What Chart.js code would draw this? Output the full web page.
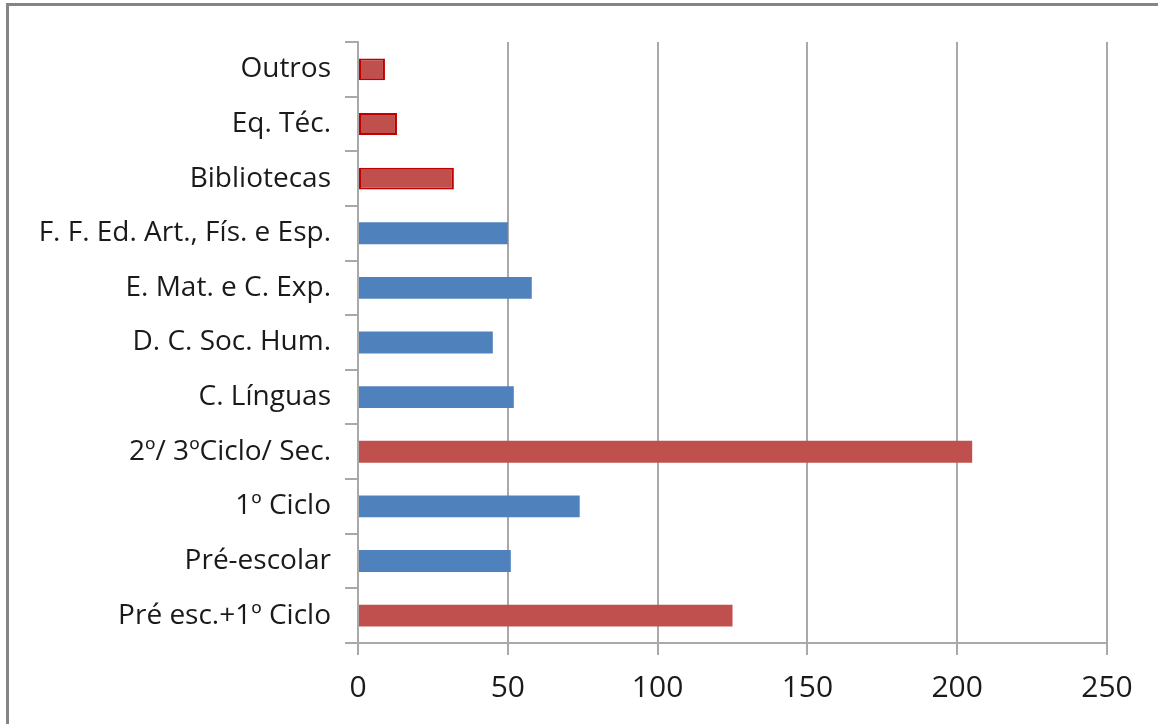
<!DOCTYPE html>
<html>
<head>
<meta charset="utf-8">
<script src="https://cdn.jsdelivr.net/npm/chart.js@4"></script>
<style>
  html, body { margin: 0; padding: 0; background: #fff; overflow: hidden; }
  #frame {
    position: absolute; left: 6px; top: 3px; width: 1200px; height: 800px;
    border-left: 3px solid #858585; border-top: 3px solid #858585;
  }
  #wrap { position: absolute; left: 0; top: 0; width: 1158px; height: 724px; }
</style>
</head>
<body>
<div id="frame"></div>
<div id="wrap"><canvas id="chart"></canvas></div>
<script>
// --------- Data (top of chart first) ---------
const categories = [
  "Outros",
  "Eq. Téc.",
  "Bibliotecas",
  "F. F. Ed. Art., Fís. e Esp.",
  "E. Mat. e C. Exp.",
  "D. C. Soc. Hum.",
  "C. Línguas",
  "2º/ 3ºCiclo/ Sec.",
  "1º Ciclo",
  "Pré-escolar",
  "Pré esc.+1º Ciclo"
];
const values = [9, 13, 32, 50, 58, 45, 52, 205, 74, 51, 125];
// which group each bar belongs to: "r" = red, "b" = blue
const groups = ["r", "r", "r", "b", "b", "b", "b", "r", "b", "b", "r"];
const xTicks = [0, 50, 100, 150, 200, 250];

// --------- Styles ---------
const RED = "#c0504d";
const BLUE = "#4f81bd";
const GRID = "#a9a9a9";
const FONT = "'Open Sans', 'Noto Sans', sans-serif";

const fillColors = groups.map((g) => (g === "r" ? RED : BLUE));

new Chart(document.getElementById("chart"), {
  type: "bar",
  data: {
    labels: categories,
    datasets: [
      {
        data: values,
        backgroundColor: fillColors,
        // first three bars have a darker outline in the original
        borderColor: "#c00000",
        borderWidth: (ctx) => (ctx.dataIndex < 3 ? 2 : 0),
        borderSkipped: false,
        categoryPercentage: 1,
        barPercentage: 0.4
      }
    ]
  },
  options: {
    indexAxis: "y",
    responsive: true,
    maintainAspectRatio: false,
    animation: false,
    layout: { padding: { top: 42, right: 51, left: 0, bottom: 0 } },
    plugins: {
      legend: { display: false },
      tooltip: { enabled: false }
    },
    scales: {
      x: {
        min: 0,
        max: 250,
        afterBuildTicks: (scale) => {
          scale.ticks = xTicks.map((v) => ({ value: v }));
        },
        afterFit: (scale) => { scale.height = 81; },
        grid: {
          color: GRID,
          lineWidth: 2,
          tickLength: 12,
          drawTicks: true
        },
        border: { color: GRID, width: 2 },
        ticks: {
          color: "#1a1a1a",
          font: { family: FONT, size: 30 },
          padding: 15,
          maxRotation: 0
        }
      },
      y: {
        afterFit: (scale) => { scale.width = 358; },
        grid: {
          offset: true,
          drawOnChartArea: false,
          color: GRID,
          lineWidth: 2,
          tickLength: 13
        },
        border: { color: GRID, width: 2 },
        ticks: {
          color: "#1a1a1a",
          font: { family: FONT, size: 28, lineHeight: 1.3 },
          padding: 14,
          autoSkip: false
        }
      }
    }
  }
});
</script>
</body>
</html>
